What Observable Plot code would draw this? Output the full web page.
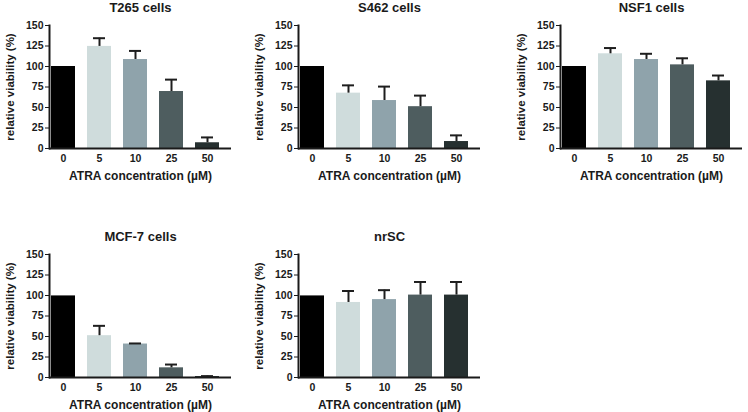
<!DOCTYPE html>
<html>
<head>
<meta charset="utf-8">
<script src="https://cdn.jsdelivr.net/npm/d3@7"></script>
<script src="https://cdn.jsdelivr.net/npm/@observablehq/plot@0.6"></script>
<style>
  html, body { margin: 0; padding: 0; background: #fff; }
  #wrap { position: relative; width: 748px; height: 412px; overflow: hidden; }
  .panel { position: absolute; }
  svg { font-family: "Liberation Sans", Arial, sans-serif; }
</style>
</head>
<body>
<div id="wrap"></div>
<script>
// ---- data ----
const concentrations = ["0", "5", "10", "25", "50"];
const barColors = ["#000000", "#cfdcdc", "#8fa3ab", "#4e5d5f", "#263030"];
const yTicks = [0, 25, 50, 75, 100, 125, 150];

const titles = ["T265 cells", "S462 cells", "NSF1 cells", "MCF-7 cells", "nrSC"];

const t265Mean = [100, 124.5, 108.5, 69.5, 7];
const t265Sd   = [0, 10, 10.5, 14.5, 6.5];
const s462Mean = [100, 67.5, 58.5, 51, 8.5];
const s462Sd   = [0, 9.5, 17, 13.5, 7.5];
const nsf1Mean = [100, 115.5, 108.5, 102, 82.5];
const nsf1Sd   = [0, 7, 7, 8, 6.5];
const mcf7Mean = [99.5, 51, 40.8, 11.8, 1.2];
const mcf7Sd   = [0, 12, 0.7, 4, 0.5];
const nrscMean = [99.5, 91.5, 95, 100.5, 100.5];
const nrscSd   = [0, 14, 11.5, 16, 16];

const means = [t265Mean, s462Mean, nsf1Mean, mcf7Mean, nrscMean];
const sds = [t265Sd, s462Sd, nsf1Sd, mcf7Sd, nrscSd];

// panel placement (svg left/top)
const positions = [[0, 0], [249, 0], [511, 0], [0, 229], [249, 229]];

function panel(i) {
  const rows = concentrations.map((c, k) => ({c, v: means[i][k], sd: sds[i][k]}));
  const errRows = rows.filter(d => d.sd > 0);
  return Plot.plot({
    width: 236,
    height: 185,
    marginLeft: 49,
    marginRight: 5,
    marginTop: 25,
    marginBottom: 37,
    style: {fontFamily: "Liberation Sans, Arial, sans-serif", background: "white", color: "#1a1a1a"},
    x: {domain: concentrations, paddingInner: 0.34, paddingOuter: 0.14, align: 0.15},
    y: {domain: [0, 150]},
    color: {domain: concentrations, range: barColors},
    marks: [
      Plot.barY(rows, {x: "c", y: "v", fill: "c"}),
      Plot.ruleX(errRows, {x: "c", y1: "v", y2: d => d.v + d.sd, stroke: "#1e1e1e", strokeWidth: 2}),
      Plot.tickY(errRows, {x: "c", y: d => d.v + d.sd, stroke: "#1e1e1e", strokeWidth: 2, insetLeft: 6, insetRight: 6}),
      Plot.ruleY([0], {stroke: "#1a1a1a", strokeWidth: 2}),
      Plot.frame({anchor: "left", stroke: "#1a1a1a", strokeWidth: 2}),
      Plot.axisY({ticks: yTicks, tickSize: 4, tickPadding: 2, fontSize: 10.5, fontWeight: "bold",
        label: "relative viability (%)", labelAnchor: "center", labelOffset: 44, labelArrow: "none"}),
      Plot.axisX({tickSize: 0, tickPadding: 6, fontSize: 10.5, fontWeight: "bold",
        label: "ATRA concentration (µM)", labelAnchor: "center", labelOffset: 31, labelArrow: "none"}),
      Plot.text([titles[i]], {frameAnchor: "top", lineAnchor: "middle", dy: -18, fontSize: 13, fontWeight: "bold", fill: "#1a1a1a"})
    ]
  });
}

const wrap = document.getElementById("wrap");
for (let i = 0; i < 5; i++) {
  const el = panel(i);
  el.classList.add("panel");
  el.style.left = positions[i][0] + "px";
  el.style.top = positions[i][1] + "px";
  wrap.appendChild(el);
}
// make axis labels bold and sized
wrap.querySelectorAll("g[aria-label='y-axis label'] text").forEach(t => {
  t.setAttribute("font-weight", "bold");
  t.setAttribute("font-size", "11.5");
});
wrap.querySelectorAll("g[aria-label='x-axis label'] text").forEach(t => {
  t.setAttribute("font-weight", "bold");
  t.setAttribute("font-size", "12");
});
</script>
</body>
</html>
